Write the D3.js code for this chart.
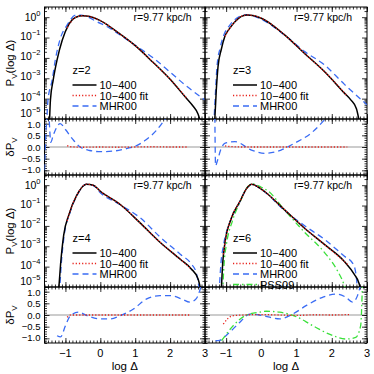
<!DOCTYPE html>
<html>
<head>
<meta charset="utf-8">
<script src="https://cdn.jsdelivr.net/npm/d3@7"></script>
<style>
body { margin: 0; background: #fff; }
text { font-family: "Liberation Sans", Arial, sans-serif; fill: #000; }
</style>
</head>
<body>
<svg id="chart" width="374" height="374"></svg>
<script>
// one panel per redshift
var redshifts = [2, 3, 4, 6];
var radiusLabel = "r=9.77 kpc/h";
var seriesNames = ["10\u2212400", "10\u2212400 fit", "MHR00", "PSS09"];

// top panels: [log Delta, log10 P_V]
var sim_z2 = [[-1.46,-5.3],[-1.43,-4.06],[-1.35,-3.08],[-1.24,-2.1],[-1.09,-1.12],[-0.91,-0.38],[-0.7,0.0],[-0.5,0.07],[-0.3,0.03],[0,-0.17],[0.5,-0.75],[1.0,-1.4],[1.5,-2.2],[2.0,-3.05],[2.43,-3.91],[2.65,-4.35],[2.8,-4.75],[2.9,-5.3]];
var fit_z2 = [[-0.95,-0.52],[-0.7,0.0],[-0.5,0.07],[-0.3,0.03],[0,-0.17],[0.5,-0.75],[1.0,-1.4],[1.5,-2.2],[2.0,-3.05],[2.5,-4.02]];
var mhr_z2 = [[-1.54,-5.3],[-1.5,-4.07],[-1.38,-3.08],[-1.29,-2.1],[-1.16,-1.12],[-0.95,-0.38],[-0.7,0.1],[-0.55,0.1],[-0.35,0.0],[-0.1,-0.22],[0.2,-0.47],[0.5,-0.8],[1.0,-1.38],[1.5,-1.98],[2.0,-2.7],[2.43,-3.33],[3.0,-4.07]];

var sim_z3 = [[-1.33,-5.3],[-1.28,-3.6],[-1.23,-2.43],[-1.14,-1.6],[-1.04,-0.96],[-0.9,-0.55],[-0.75,-0.22],[-0.42,0.11],[-0.2,0.07],[0,-0.05],[0.66,-0.87],[1.22,-1.77],[1.79,-2.67],[2.36,-3.73],[2.54,-4.06],[2.7,-4.5],[2.8,-5.3]];
var fit_z3 = [[-1.03,-0.93],[-0.9,-0.55],[-0.75,-0.22],[-0.42,0.11],[-0.2,0.07],[0,-0.05],[0.66,-0.87],[1.22,-1.77],[1.79,-2.67],[2.44,-3.87]];
var mhr_z3 = [[-1.35,-5.3],[-1.3,-3.6],[-1.26,-2.43],[-1.17,-1.5],[-1.07,-0.9],[-0.9,-0.4],[-0.6,0.05],[-0.42,0.12],[-0.2,0.04],[0.1,-0.2],[0.66,-0.88],[1.22,-1.68],[1.79,-2.34],[2.36,-3.3],[3.0,-4.3]];

var sim_z4 = [[-1.2,-5.3],[-1.14,-3.9],[-1.05,-2.45],[-0.9,-1.45],[-0.67,-0.48],[-0.4,0.05],[-0.2,0.0],[0,-0.3],[0.57,-0.95],[1.14,-1.85],[1.71,-2.8],[2.3,-3.65],[2.6,-4.1],[2.8,-4.6],[2.9,-5.3]];
var fit_z4 = [[-0.95,-1.75],[-0.9,-1.45],[-0.67,-0.48],[-0.4,0.05],[-0.2,0.0],[0,-0.3],[0.57,-0.95],[1.14,-1.85],[1.71,-2.8],[2.3,-3.65],[2.6,-4.1]];
var mhr_z4 = [[-1.17,-5.3],[-1.12,-3.9],[-1.03,-2.4],[-0.88,-1.4],[-0.65,-0.44],[-0.4,0.05],[-0.2,-0.02],[0,-0.37],[0.57,-0.96],[1.14,-1.6],[1.71,-2.54],[2.3,-3.4],[2.6,-3.85],[2.75,-4.3],[2.85,-5.3]];

var sim_z6 = [[-1.14,-5.3],[-1.1,-3.9],[-1.04,-2.91],[-0.85,-1.61],[-0.61,-0.8],[-0.4,-0.12],[-0.28,0.04],[-0.1,-0.08],[0.09,-0.31],[0.66,-1.21],[1.22,-2.1],[1.79,-2.91],[2.35,-3.73],[2.64,-4.38],[2.78,-4.85],[2.83,-5.3]];
var fit_z6 = [[-1.08,-3.4],[-1.04,-2.91],[-0.85,-1.61],[-0.61,-0.8],[-0.4,-0.12],[-0.28,0.04],[-0.1,-0.08],[0.09,-0.31],[0.66,-1.21],[1.22,-2.1],[1.79,-2.91],[2.49,-3.95]];
var mhr_z6 = [[-1.2,-5.3],[-1.15,-3.9],[-1.07,-2.9],[-0.9,-1.85],[-0.65,-0.95],[-0.4,-0.13],[-0.28,0.04],[-0.1,-0.08],[0.09,-0.32],[0.66,-1.25],[1.22,-1.98],[1.79,-2.66],[2.35,-3.48],[2.6,-3.85],[2.68,-4.3],[2.74,-5.3]];
var pss_z6 = [[-1.1,-5.3],[-1.06,-3.9],[-0.99,-2.9],[-0.82,-1.75],[-0.6,-0.8],[-0.4,-0.1],[-0.25,0.06],[0.0,-0.1],[0.2,-0.3],[0.66,-1.22],[1.22,-2.3],[1.79,-3.3],[2.16,-4.2],[2.35,-4.9],[2.42,-5.3]];

// bottom panels: [log Delta, delta P_V]
var fitRes_z2 = [[-0.95,0.06],[-0.85,0.01],[-0.5,-0.01],[0,0.0],[0.5,-0.01],[1.0,0.0],[1.5,0.01],[2.0,0.0],[2.5,0.0]];
var mhrRes_z2 = [[-1.6,-1.0],[-1.52,1.3],[-1.48,1.3],[-1.42,0.2],[-1.35,0.5],[-1.15,1.0],[-1.0,0.75],[-0.8,0.35],[-0.6,0.02],[-0.3,-0.15],[0,-0.2],[0.4,-0.17],[0.8,-0.05],[1.0,0.03],[1.3,0.3],[1.6,0.7],[1.9,1.3]];
var fitRes_z3 = [[-1.03,0.05],[-0.9,0.02],[-0.5,0.0],[0,0.0],[1.0,0.0],[2.0,0.0],[2.44,0.0]];
var mhrRes_z3 = [[-1.32,1.3],[-1.3,-0.8],[-1.25,-0.6],[-1.15,-0.1],[-1.04,0.16],[-0.75,0.23],[-0.28,-0.13],[0.09,-0.27],[0.56,-0.13],[0.94,0.16],[1.41,0.59],[1.79,1.16],[1.9,1.35]];
var fitRes_z4 = [[-0.95,-0.1],[-0.85,0.0],[0,0.0],[1.0,0.0],[2.0,0.0],[2.6,0.0]];
var mhrRes_z4 = [[-1.24,-0.89],[-1.14,-0.94],[-1.0,-0.46],[-0.86,-0.03],[-0.62,0.12],[-0.38,-0.03],[0,-0.17],[0.29,-0.17],[0.57,-0.03],[0.95,0.26],[1.33,0.69],[1.71,0.83],[2.0,0.83],[2.33,0.69],[2.57,0.55],[2.75,0.7],[2.9,1.3]];
var fitRes_z6 = [[-1.08,-0.39],[-0.95,-0.15],[-0.8,-0.03],[-0.5,0.0],[0,0.02],[0.5,0.0],[1.0,-0.02],[1.5,0.01],[2.0,0.0],[2.49,0.02]];
var mhrRes_z6 = [[-1.3,-1.1],[-1.23,-1.1],[-0.9,-0.74],[-0.61,-0.31],[-0.33,0.04],[0.05,-0.03],[0.52,-0.17],[0.89,0.04],[1.27,0.4],[1.74,0.76],[2.12,0.9],[2.4,0.76],[2.59,0.55],[2.73,0.83],[2.82,1.3]];
var pssRes_z6 = [[-1.13,-1.1],[-0.8,-0.46],[-0.42,0.0],[-0.05,0.12],[0.14,0.16],[0.52,0.12],[0.99,-0.07],[1.46,-0.46],[1.93,-0.82],[2.4,-1.03],[2.68,-0.96],[2.82,-0.46],[2.87,1.3]];

var xTicks = [-1, 0, 1, 2, 3];
var xTickLabels = ["\u22121", "0", "1", "2", "3"];
var logTicks = [-5, -4, -3, -2, -1, 0];
var resTicks = [-1, -0.5, 0, 0.5, 1];
var resTickLabels = ["\u22121.0", "\u22120.5", "0.0", "0.5", "1.0"];

var panels = [
  {z: redshifts[0], main: [sim_z2, fit_z2, mhr_z2], res: [fitRes_z2, mhrRes_z2]},
  {z: redshifts[1], main: [sim_z3, fit_z3, mhr_z3], res: [fitRes_z3, mhrRes_z3]},
  {z: redshifts[2], main: [sim_z4, fit_z4, mhr_z4], res: [fitRes_z4, mhrRes_z4]},
  {z: redshifts[3], main: [sim_z6, fit_z6, mhr_z6, pss_z6], res: [fitRes_z6, mhrRes_z6, pssRes_z6]}
];

var styles = [
  {color: "#000", width: 1.5, dash: null},
  {color: "#e8201a", width: 1.3, dash: "1.2,2"},
  {color: "#3a6cf4", width: 1.3, dash: "6,4"},
  {color: "#3be03b", width: 1.3, dash: "6,3,1.5,3"}
];
var resStyles = [styles[1], styles[2], styles[3]];

var colX = [[44.5, 205], [205, 367]];
var rowY = [7, 175];
var mainH = 112, resH = 56;

var svg = d3.select("#chart");
var defs = svg.append("defs");

var xMinor = d3.range(-16, 31).map(function(d) { return d / 10; });
var logMinor = [];
for (var k = -5; k <= 0; k++) for (var m = 2; m <= 9; m++) {
  if (Math.log10(m) + k <= 0.5) logMinor.push(m * Math.pow(10, k));
}
var resMinor = d3.range(-12, 13).map(function(d) { return d / 10; });

function tickSet(g, axis, values, size) {
  g.call(axis.tickValues(values).tickSize(-size).tickFormat(""));
  g.select(".domain").remove();
  g.selectAll("line").attr("stroke", "#000").attr("stroke-width", 0.8);
}

function frame(x, y, x0, x1, y0, y1, yMajor, yMinor, id) {
  var g = svg.append("g");
  [[d3.axisLeft, x0], [d3.axisRight, x1]].forEach(function(a) {
    tickSet(g.append("g").attr("transform", "translate(" + a[1] + ",0)"), a[0](y), yMajor, 5);
    tickSet(g.append("g").attr("transform", "translate(" + a[1] + ",0)"), a[0](y), yMinor, 2.5);
  });
  [[d3.axisTop, y0], [d3.axisBottom, y1]].forEach(function(a) {
    tickSet(g.append("g").attr("transform", "translate(0," + a[1] + ")"), a[0](x), xTicks, 5);
    tickSet(g.append("g").attr("transform", "translate(0," + a[1] + ")"), a[0](x), xMinor, 2.5);
  });
  g.append("rect")
    .attr("x", x0).attr("y", y0).attr("width", x1 - x0).attr("height", y1 - y0)
    .attr("fill", "none").attr("stroke", "#000").attr("stroke-width", 1);
  defs.append("clipPath").attr("id", id).append("rect")
    .attr("x", x0).attr("y", y0).attr("width", x1 - x0).attr("height", y1 - y0);
}

function drawLine(data, line, st, clip) {
  svg.append("path")
    .datum(data)
    .attr("clip-path", "url(#" + clip + ")")
    .attr("fill", "none")
    .attr("stroke", st.color)
    .attr("stroke-width", st.width)
    .attr("stroke-dasharray", st.dash)
    .attr("d", line);
}

panels.forEach(function(p, i) {
  var col = i % 2, row = Math.floor(i / 2);
  var x0 = colX[col][0], x1 = colX[col][1];
  var top = rowY[row], mid = top + mainH, bot = mid + resH;

  var x = d3.scaleLinear().domain([-1.6, 3]).range([x0, x1]);
  var yMain = d3.scaleLog().domain([1e-5, Math.pow(10, 0.5)]).range([mid, top]);
  var yRes = d3.scaleLinear().domain([-1.2, 1.2]).range([bot, mid]);

  var mainLine = d3.line()
    .x(function(d) { return x(d[0]); })
    .y(function(d) { return yMain(Math.pow(10, d[1])); })
    .curve(d3.curveMonotoneX);
  var resLine = d3.line()
    .x(function(d) { return x(d[0]); })
    .y(function(d) { return yRes(d[1]); })
    .curve(d3.curveMonotoneX);

  // zero line in the residual panel
  svg.append("line")
    .attr("x1", x0).attr("x2", x1).attr("y1", yRes(0)).attr("y2", yRes(0))
    .attr("stroke", "#999").attr("stroke-width", 1);

  var clipM = "clipM" + i, clipR = "clipR" + i;
  frame(x, yMain, x0, x1, top, mid, logTicks.map(function(e) { return Math.pow(10, e); }), logMinor, clipM);
  frame(x, yRes, x0, x1, mid, bot, resTicks, resMinor, clipR);

  // fit dots sit on top of the simulation line, as in the figure
  [2, 3, 0, 1].forEach(function(s) {
    if (p.main[s]) drawLine(p.main[s], mainLine, styles[s], clipM);
  });
  [1, 2, 0].forEach(function(s) {
    if (p.res[s]) drawLine(p.res[s], resLine, resStyles[s], clipR);
  });

  svg.append("text")
    .attr("x", x0 + 89).attr("y", top + 14)
    .attr("font-size", 10.5)
    .text(radiusLabel);

  // legend
  var lx = x0 + 28, ly = top + 67;
  svg.append("text").attr("x", lx).attr("y", ly).attr("font-size", 11).text("z=" + p.z);
  p.main.forEach(function(d, s) {
    var yy = ly + 10.5 * (s + 1) + 0.5;
    svg.append("line")
      .attr("x1", lx).attr("x2", lx + 24).attr("y1", yy).attr("y2", yy)
      .attr("stroke", styles[s].color).attr("stroke-width", styles[s].width)
      .attr("stroke-dasharray", styles[s].dash);
    svg.append("text").attr("x", lx + 27).attr("y", yy + 4)
      .attr("font-size", 11).text(seriesNames[s]);
  });

  if (col === 0) {
    logTicks.forEach(function(e) {
      var t = svg.append("text")
        .attr("x", x0 - 4).attr("y", yMain(Math.pow(10, e)) + (e === -5 ? -2.5 : e === 0 ? 3.5 : 2))
        .attr("text-anchor", "end").attr("font-size", 10.5);
      t.append("tspan").text("10");
      t.append("tspan").attr("font-size", 7.5).attr("dy", -5).text(e === 0 ? "0" : "\u2212" + (-e));
    });
    resTicks.forEach(function(v, j) {
      svg.append("text")
        .attr("x", x0 - 4).attr("y", yRes(v) + (v === 1 ? 4.5 : v === -1 ? 3 : 3.5))
        .attr("text-anchor", "end").attr("font-size", 9.5)
        .text(resTickLabels[j]);
    });
    var t1 = svg.append("text")
      .attr("transform", "translate(14," + ((top + mid) / 2) + ") rotate(-90)")
      .attr("text-anchor", "middle").attr("font-size", 11.5);
    t1.append("tspan").text("P");
    t1.append("tspan").attr("font-size", 8).attr("dy", 3).text("V");
    t1.append("tspan").attr("dy", -3).text("(log \u0394)");
    var t2 = svg.append("text")
      .attr("transform", "translate(14," + ((mid + bot) / 2) + ") rotate(-90)")
      .attr("text-anchor", "middle").attr("font-size", 11.5);
    t2.append("tspan").text("\u03b4P");
    t2.append("tspan").attr("font-size", 8).attr("dy", 3).text("V");
  }
  if (row === 1) {
    xTicks.forEach(function(v, j) {
      svg.append("text")
        .attr("x", x(v)).attr("y", bot + 14)
        .attr("text-anchor", "middle").attr("font-size", 11)
        .text(xTickLabels[j]);
    });
    svg.append("text")
      .attr("x", (x0 + x1) / 2).attr("y", bot + 27)
      .attr("text-anchor", "middle").attr("font-size", 11.5)
      .text("log \u0394");
  }
});
</script>
</body>
</html>
